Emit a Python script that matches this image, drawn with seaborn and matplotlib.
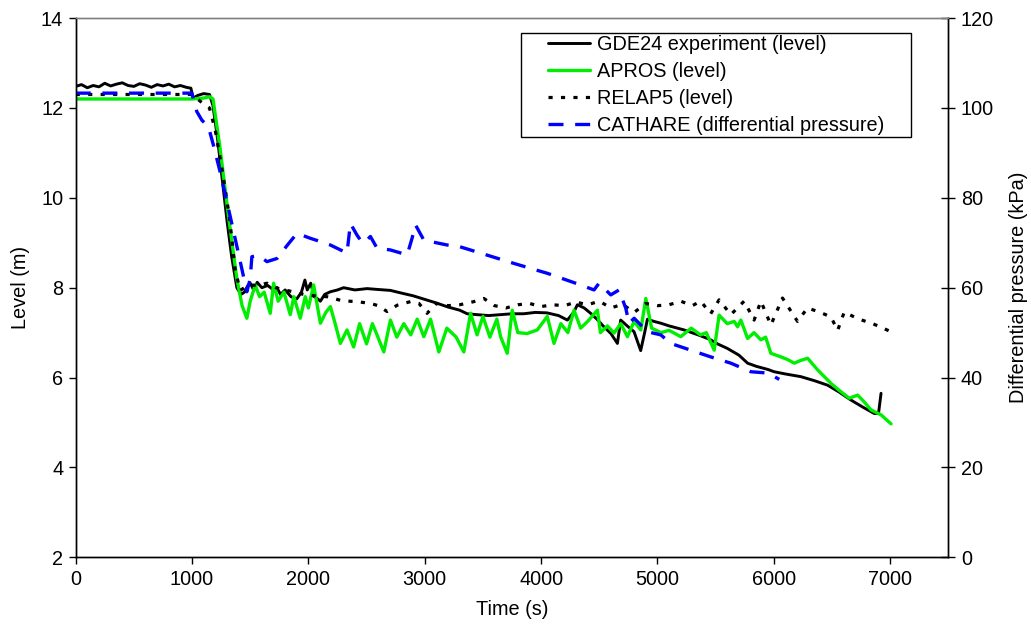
import numpy as np
import pandas as pd
import matplotlib
matplotlib.use("Agg")
import matplotlib.pyplot as plt
from matplotlib.patches import Rectangle
import seaborn as sns

# ---------------- data ----------------
gde_t = [0, 50, 100, 150, 200, 250, 300, 350, 400, 450, 500, 550, 600, 650, 700, 750, 800, 850, 900, 950,
         990, 1010, 1050, 1100, 1150, 1180, 1220, 1260, 1300, 1340, 1385, 1420, 1450, 1480, 1500, 1530, 1560,
         1600, 1650, 1700, 1730, 1760, 1800, 1850, 1900, 1940, 1970, 1990, 2020, 2050, 2080, 2103, 2140, 2189,
         2250, 2303, 2400, 2504, 2600, 2705, 2800, 2900, 3000, 3100, 3200, 3300, 3365, 3450, 3550, 3650, 3750,
         3850, 3950, 4050, 4150, 4226, 4280, 4312, 4370, 4426, 4480, 4540, 4600, 4656, 4684, 4740, 4799, 4856,
         4890, 4914, 4970, 5029, 5100, 5229, 5350, 5450, 5516, 5600, 5700, 5775, 5850, 5950, 6003, 6100, 6233,
         6350, 6463, 6560, 6663, 6760, 6864, 6900, 6922]
gde_lvl = [12.48, 12.52, 12.45, 12.50, 12.47, 12.55, 12.49, 12.53, 12.56, 12.50, 12.48, 12.54, 12.51, 12.46,
           12.52, 12.49, 12.53, 12.47, 12.50, 12.46, 12.44, 12.22, 12.28, 12.32, 12.30, 12.05, 11.3, 10.4, 9.5,
           8.7, 8.0, 7.85, 7.9, 8.05, 8.1, 7.95, 8.12, 8.0, 8.05, 7.95, 8.0, 7.85, 7.95, 7.8, 7.75, 7.9, 8.17,
           7.95, 8.1, 7.8, 7.75, 7.7, 7.85, 7.91, 7.95, 8.0, 7.95, 7.98, 7.96, 7.94, 7.88, 7.82, 7.74, 7.66, 7.57,
           7.5, 7.42, 7.40, 7.38, 7.40, 7.42, 7.42, 7.45, 7.44, 7.38, 7.28, 7.45, 7.62, 7.55, 7.43, 7.3, 7.13,
           6.98, 6.76, 7.28, 7.15, 7.02, 6.6, 7.0, 7.3, 7.25, 7.21, 7.15, 7.06, 6.95, 6.85, 6.75, 6.65, 6.5, 6.32,
           6.25, 6.18, 6.13, 6.08, 6.02, 5.93, 5.83, 5.68, 5.50, 5.35, 5.20, 5.2, 5.65]

apros_t = [0, 1000, 1100, 1150, 1180, 1241, 1313, 1385, 1430, 1471, 1500, 1543, 1580, 1620, 1672, 1701, 1740,
           1790, 1844, 1875, 1930, 1973, 2000, 2045, 2103, 2150, 2189, 2230, 2275, 2332, 2389, 2440, 2500, 2550,
           2590, 2648, 2705, 2760, 2820, 2880, 2935, 2992, 3050, 3121, 3190, 3270, 3336, 3394, 3450, 3500, 3560,
           3620, 3652, 3709, 3752, 3800, 3880, 3967, 4053, 4111, 4170, 4230, 4283, 4340, 4400, 4484, 4510, 4570,
           4627, 4685, 4742, 4800, 4857, 4900, 4950, 5030, 5100, 5201, 5290, 5370, 5420, 5488, 5530, 5600, 5660,
           5689, 5717, 5775, 5830, 5889, 5930, 5975, 6061, 6120, 6176, 6230, 6291, 6377, 6492, 6560, 6649, 6721,
           6780, 6836, 6922, 7008]
apros_lvl = [12.2, 12.2, 12.22, 12.25, 12.2, 11.1, 9.6, 8.2, 7.6, 7.32, 7.7, 8.06, 7.8, 7.9, 7.43, 8.1, 7.7,
             7.9, 7.40, 7.8, 7.32, 7.80, 7.55, 8.06, 7.21, 7.45, 7.58, 7.2, 6.76, 7.06, 6.68, 7.2, 6.75, 7.2,
             6.95, 6.57, 7.28, 6.9, 7.2, 6.95, 7.3, 6.91, 7.3, 6.57, 7.1, 6.9, 6.57, 7.43, 6.95, 7.36, 6.9, 7.3,
             6.91, 6.54, 7.50, 7.0, 6.98, 7.06, 7.36, 6.76, 7.2, 7.0, 7.50, 7.1, 7.25, 7.50, 7.0, 7.15, 6.99, 7.2,
             6.91, 7.25, 7.06, 7.76, 7.1, 7.0, 7.05, 6.91, 7.1, 6.95, 7.0, 6.61, 7.39, 7.2, 7.25, 7.13, 7.28, 6.87,
             7.0, 6.84, 6.9, 6.54, 6.46, 6.40, 6.32, 6.38, 6.43, 6.17, 5.87, 5.72, 5.54, 5.61, 5.45, 5.28, 5.17,
             4.97]

relap_t = [0, 1000, 1070, 1150, 1200, 1260, 1320, 1371, 1414, 1450, 1500, 1560, 1644, 1720, 1800, 1880, 1960,
           2050, 2160, 2275, 2350, 2418, 2533, 2600, 2676, 2763, 2877, 2950, 3020, 3100, 3200, 3300, 3422, 3508,
           3600, 3700, 3800, 3900, 4000, 4100, 4200, 4300, 4400, 4500, 4600, 4700, 4800, 4900, 5000, 5100, 5200,
           5300, 5372, 5458, 5530, 5631, 5745, 5831, 5889, 5975, 6075, 6204, 6290, 6400, 6491, 6549, 6606, 6721,
           6850, 7008]
relap_lvl = [12.3, 12.3, 12.15, 12.0, 11.5, 10.6, 9.6, 8.39, 7.94, 8.0, 8.06, 8.05, 8.10, 8.0, 7.95, 7.9, 7.85,
             7.82, 7.80, 7.72, 7.70, 7.69, 7.65, 7.6, 7.47, 7.61, 7.69, 7.65, 7.43, 7.65, 7.6, 7.62, 7.69, 7.76,
             7.6, 7.55, 7.62, 7.65, 7.58, 7.62, 7.6, 7.68, 7.62, 7.7, 7.55, 7.63, 7.45, 7.65, 7.6, 7.62, 7.70,
             7.6, 7.70, 7.42, 7.73, 7.40, 7.70, 7.28, 7.70, 7.17, 7.77, 7.25, 7.55, 7.45, 7.35, 7.05, 7.46, 7.31,
             7.2, 7.02]

cath_t = [0, 998, 1041, 1084, 1141, 1184, 1241, 1313, 1400, 1471, 1500, 1514, 1570, 1644, 1730, 1820, 1902,
          2016, 2100, 2189, 2332, 2361, 2418, 2450, 2476, 2533, 2590, 2705, 2849, 2891, 2920, 2992, 3100, 3193,
          3279, 3480, 3767, 4054, 4341, 4455, 4498, 4599, 4670, 4728, 4756, 4800, 4914, 5029, 5114, 5286, 5458,
          5631, 5803, 5950, 6047]
cath_kpa = [103.3, 103.3, 99.2, 97.3, 95.8, 91.7, 85.8, 77.6, 67.5, 59.1, 62.0, 66.9, 67.2, 65.8, 66.5, 69.5,
            72.1, 71.0, 70.3, 69.5, 67.7, 74.3, 71.7, 70.5, 69.9, 71.4, 68.8, 68.4, 67.3, 71.0, 74.0, 70.6, 70.0,
            69.5, 69.3, 67.7, 65.4, 63.2, 60.6, 59.5, 61.0, 58.4, 59.5, 55.4, 52.1, 53.2, 50.2, 49.5, 47.6, 46.1,
            44.6, 43.2, 41.3, 41.0, 39.6]

labels = ["GDE24 experiment (level)", "APROS (level)", "RELAP5 (level)", "CATHARE (differential pressure)"]
x_ticks = [0, 1000, 2000, 3000, 4000, 5000, 6000, 7000]
yl_ticks = [2, 4, 6, 8, 10, 12, 14]
yr_ticks = [0, 20, 40, 60, 80, 100, 120]

# ---------------- style ----------------
sns.set_style("ticks")
plt.rcParams["font.family"] = ["Liberation Sans", "DejaVu Sans"]
plt.rcParams["font.size"] = 14.3
for k in ("text.color", "axes.labelcolor", "xtick.color", "ytick.color", "axes.edgecolor"):
    plt.rcParams[k] = "black"

fig = plt.figure(figsize=(10.31, 6.37), dpi=100)
ax = fig.add_axes([75.7 / 1031, 1 - 557.3 / 637, (948.3 - 75.7) / 1031, (557.3 - 18.1) / 637])
ax2 = ax.twinx()

sns.lineplot(x=gde_t, y=gde_lvl, ax=ax, color="black", lw=2.1, label=labels[0], legend=False)
sns.lineplot(x=apros_t, y=apros_lvl, ax=ax, color="#00ee00", lw=2.4, label=labels[1], legend=False)
sns.lineplot(x=relap_t, y=relap_lvl, ax=ax, color="black", lw=2.3, linestyle=(0, (1.3, 2.6)),
             label=labels[2], legend=False)
sns.lineplot(x=cath_t, y=cath_kpa, ax=ax2, color="#0000ff", lw=2.4, linestyle=(0, (4.5, 3.5)),
             label=labels[3], legend=False)

ax.set_xlim(0, 7500)
ax.set_ylim(2, 14)
ax2.set_ylim(0, 120)
ax.set_xticks(x_ticks)
ax.set_xticklabels([str(v) for v in x_ticks])
ax.set_yticks(yl_ticks)
ax.set_yticklabels([str(v) for v in yl_ticks])
ax2.set_yticks(yr_ticks)
ax2.set_yticklabels([str(v) for v in yr_ticks])

ax.set_xlabel("Time (s)", fontsize=14.3, labelpad=8)
ax.set_ylabel("Level (m)", fontsize=14.3, labelpad=8)
ax2.set_ylabel("Differential pressure (kPa)", fontsize=14.3, labelpad=11)

for a in (ax, ax2):
    for s in a.spines.values():
        s.set_linewidth(1.0)
        s.set_color("black")
    a.spines["top"].set_color("#808080")
ax.tick_params(axis="both", direction="out", length=5, width=1, labelsize=14.3, color="black",
               labelcolor="black", pad=4)
ax2.tick_params(axis="y", direction="inout", length=10, width=1, labelsize=14.3, color="black",
                labelcolor="black", pad=4)
ax.grid(False)
ax2.grid(False)

handles = ax.get_lines()[:3] + ax2.get_lines()[:1]
leg = ax2.legend(handles, labels, loc="upper left", bbox_to_anchor=(548 / 1031, 1 - 35 / 637),
                 bbox_transform=fig.transFigure, frameon=False, borderpad=0, borderaxespad=0,
                 handlelength=2.1, handletextpad=0.35, labelspacing=0.40, fontsize=14.3)
for t in leg.get_texts():
    t.set_color("black")

fig.canvas.draw()
bb = leg.get_window_extent()
padx, pady = 27, 2
rect = Rectangle((bb.x0 - padx, bb.y0 - pady), bb.width + 2 * padx, bb.height + 2 * pady,
                 transform=None, fill=True, facecolor="white", edgecolor="black", lw=1.0, zorder=4)
ax2.add_artist(rect)
leg.set_zorder(5)

fig.savefig("out.png", dpi=100)
